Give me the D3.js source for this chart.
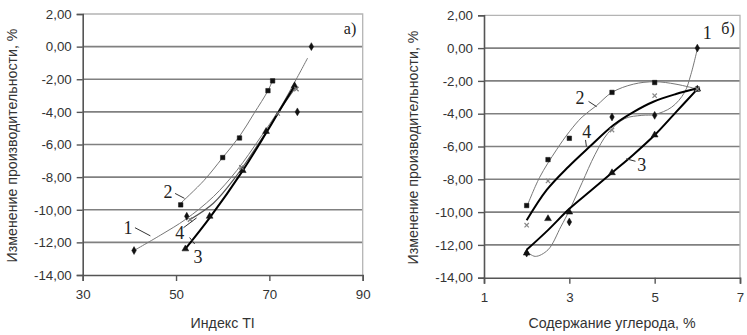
<!DOCTYPE html>
<html>
<head>
<meta charset="utf-8">
<script src="https://cdn.jsdelivr.net/npm/d3@7"></script>
<style>
  body { margin: 0; background: #fff; }
  svg { display: block; }
  .tick text { font-family: "Liberation Sans", Arial, sans-serif; font-size: 13.3px; fill: #333; }
  .title { font-family: "Liberation Sans", Arial, sans-serif; font-size: 14.2px; fill: #333; }
  .note { font-family: "Liberation Serif", "Times New Roman", serif; font-size: 18px; fill: #222; }
</style>
</head>
<body>
<div id="chart"></div>
<script>
// y axis is the same on both panels
var yTicks = [2, 0, -2, -4, -6, -8, -10, -12, -14];
var yTickLabels = ["2,00", "0,00", "-2,00", "-4,00", "-6,00", "-8,00", "-10,00", "-12,00", "-14,00"];
var yTitle = "Изменение производительности, %";

// panel a) - index TI
var tiTicks = [30, 50, 70, 90];
var tiTitle = "Индекс TI";
var tiMarks1 = [[41, -12.5], [52.3, -10.4], [76, -4.0], [79, 0.0]];
var tiMarks2 = [[51, -9.7], [60, -6.8], [63.6, -5.6], [69.7, -2.7], [70.7, -2.1]];
var tiMarks3 = [[52, -12.4], [57.2, -10.4], [64.3, -7.6], [69.3, -5.2], [75.4, -2.4]];
var tiMarks4 = [[53, -10.6], [64, -7.4], [71.8, -4.1], [75.8, -2.6]];
// trend curves
var tiCurve1 = [[41, -12.5], [47, -11.5], [52, -10.6], [58, -9.2], [63, -7.6], [68, -5.6], [72, -3.9], [75, -2.4], [78.2, -0.7]];
var tiCurve2 = [[51, -9.6], [56, -8.2], [60, -6.8], [63.6, -5.5], [66.7, -4.1], [69.7, -2.7], [70.8, -2.0]];
var tiCurve3 = [[52, -12.4], [57.2, -10.5], [64.3, -7.6], [69.3, -5.3], [71.8, -4.1], [75.4, -2.4]];
var tiCurve4 = [[53, -10.6], [58, -9.6], [63, -7.9], [68, -5.8], [72, -4.0], [75.6, -2.5]];

// panel б) - carbon content
var cTicks = [1, 3, 5, 7];
var cTitle = "Содержание углерода, %";
var cMarks1 = [[2, -12.5], [3, -10.6], [4, -4.2], [5, -4.1], [6, 0.0]];
var cMarks2 = [[2, -9.6], [2.5, -6.8], [3, -5.5], [4, -2.7], [5, -2.1], [6, -2.5]];
var cMarks3 = [[2, -12.5], [2.5, -10.4], [3, -10.0], [4, -7.6], [5, -5.3], [6, -2.5]];
var cMarks4 = [[2, -10.8], [2.5, -8.1], [4, -5.0], [5, -2.9], [6, -2.5]];
var cCurve1 = [[2, -12.4], [2.2, -12.7], [2.5, -12.3], [2.8, -10.9], [3, -9.9], [3.3, -8.2], [3.6, -6.5], [3.9, -5.2], [4.3, -4.3], [4.7, -4.1], [5, -4.05], [5.4, -3.6], [5.7, -2.7], [5.85, -1.6], [6, -0.05]];
var cCurve2 = [[2, -9.7], [2.3, -7.9], [2.7, -6.2], [3, -5.1], [3.3, -4.2], [3.64, -3.5], [4, -2.7], [4.5, -2.2], [5, -2.05], [5.5, -2.2], [6, -2.5]];
var cCurve3 = [[2, -12.3], [2.5, -11.1], [3, -9.8], [3.5, -8.7], [4, -7.6], [4.5, -6.5], [5, -5.3], [5.5, -3.9], [6, -2.5]];
var cCurve4 = [[2, -10.5], [2.47, -8.65], [2.98, -7.23], [3.48, -6.0], [4.03, -4.7], [4.5, -3.9], [4.97, -3.27], [5.5, -2.8], [6, -2.45]];

// curve labels [text, x, y, leader from x,y to x,y] in data units
var tiNotes = [["1", 39.7, -11.1, [41.2, -11.1, 44.5, -11.6]], ["2", 48.3, -8.9, [49.8, -9.0, 51.8, -9.3]],
               ["4", 50.8, -11.4, [51.6, -11.1, 54.4, -10.5]], ["3", 54.7, -12.9, [54.0, -12.1, 52.9, -11.7]]];
var cNotes = [["1", 6.23, 0.92, null], ["2", 3.25, -3.04, [3.45, -3.25, 3.64, -3.57]],
              ["4", 3.41, -5.1, [3.38, -5.6, 3.4, -6.0]], ["3", 4.7, -7.13, [4.55, -6.9, 4.33, -6.75]]];

var svg = d3.select("#chart").append("svg")
  .attr("width", 747).attr("height", 335);
svg.append("rect").attr("width", 747).attr("height", 335).attr("fill", "#fff");

var line = d3.line().curve(d3.curveCatmullRom.alpha(0.5));

function panel(opt) {
  var x = d3.scaleLinear().domain(opt.xDomain).range([opt.left, opt.right]);
  var y = d3.scaleLinear().domain([-14, 2]).range([opt.bottom, opt.top]);
  var g = svg.append("g");

  // grid
  g.selectAll(".grid").data(yTicks.filter(function(d) { return d > -14 && d < 2; }))
    .enter().append("line")
      .attr("x1", opt.left).attr("x2", opt.right)
      .attr("y1", function(d) { return y(d); }).attr("y2", function(d) { return y(d); })
      .attr("stroke", "#808080").attr("stroke-width", 1.6);
  // frame top/right
  g.append("path")
    .attr("d", "M" + opt.left + "," + opt.top + "H" + opt.right + "V" + opt.bottom)
    .attr("fill", "none").attr("stroke", "#b4b4b4").attr("stroke-width", 1.3);

  // axes
  var ya = g.append("g").attr("transform", "translate(" + opt.left + ",0)")
    .call(d3.axisLeft(y).tickValues(yTicks).tickSize(6).tickPadding(5)
      .tickFormat(function(d, i) { return yTickLabels[i]; }));
  var xa = g.append("g").attr("transform", "translate(0," + opt.bottom + ")")
    .call(d3.axisBottom(x).tickValues(opt.xTicks).tickSize(6).tickPadding(9)
      .tickFormat(d3.format("d")));
  [ya, xa].forEach(function(a) {
    a.select(".domain").attr("stroke", "#555").attr("stroke-width", 1.6);
    a.selectAll(".tick line").attr("stroke", "#555").attr("stroke-width", 1.4);
  });

  g.append("text").attr("class", "title")
    .attr("transform", "translate(" + opt.yTitleX + "," + ((opt.top + opt.bottom) / 2 + 1) + ")rotate(-90)")
    .attr("text-anchor", "middle").attr("dy", "0.35em").text(yTitle);
  g.append("text").attr("class", "title")
    .attr("x", (opt.left + opt.right) / 2).attr("y", 323)
    .attr("text-anchor", "middle").attr("dy", "0.35em").text(opt.xTitle);

  // curves
  opt.curves.forEach(function(c) {
    g.append("path")
      .attr("d", line(c.pts.map(function(p) { return [x(p[0]), y(p[1])]; })))
      .attr("fill", "none").attr("stroke", c.color).attr("stroke-width", c.w);
  });

  // markers
  opt.marks.forEach(function(m) {
    g.selectAll(null).data(m.pts).enter().append("path")
      .attr("transform", function(d) { return "translate(" + x(d[0]) + "," + y(d[1]) + ")"; })
      .attr("d", d3.symbol().type(m.type).size(m.size))
      .attr("fill", m.stroke ? "none" : m.color)
      .attr("stroke", m.color).attr("stroke-width", m.stroke ? 1.2 : 0.5);
  });

  // notes
  opt.notes.forEach(function(n) {
    g.append("text").attr("class", "note")
      .attr("x", x(n[1])).attr("y", y(n[2]))
      .attr("text-anchor", "middle").attr("dy", "0.35em").text(n[0]);
    if (n[3]) {
      g.append("line")
        .attr("x1", x(n[3][0])).attr("y1", y(n[3][1]))
        .attr("x2", x(n[3][2])).attr("y2", y(n[3][3]))
        .attr("stroke", "#333").attr("stroke-width", 1);
    }
  });
  g.append("text").attr("class", "note").style("font-size", "16px")
    .attr("x", opt.tagX).attr("y", 28)
    .attr("text-anchor", "middle").attr("dy", "0.35em").text(opt.tag);
}

panel({
  left: 82.7, right: 362.7, top: 14, bottom: 275,
  xDomain: [30, 90], xTicks: tiTicks, xTitle: tiTitle, yTitleX: 12,
  tag: "а)", tagX: 350,
  curves: [
    {pts: tiCurve1, color: "#777", w: 1},
    {pts: tiCurve2, color: "#777", w: 1},
    {pts: tiCurve4, color: "#555", w: 1.2},
    {pts: tiCurve3, color: "#000", w: 2}
  ],
  marks: [
    {pts: tiMarks1, type: d3.symbolDiamond, size: 18, color: "#111"},
    {pts: tiMarks2, type: d3.symbolSquare, size: 20, color: "#111"},
    {pts: tiMarks3, type: d3.symbolTriangle, size: 20, color: "#111"},
    {pts: tiMarks4, type: d3.symbolX, size: 14, color: "#777", stroke: true}
  ],
  notes: tiNotes
});

panel({
  left: 484, right: 740, top: 15.3, bottom: 277.7,
  xDomain: [1, 7], xTicks: cTicks, xTitle: cTitle, yTitleX: 413,
  tag: "б)", tagX: 728,
  curves: [
    {pts: cCurve1, color: "#777", w: 1},
    {pts: cCurve2, color: "#777", w: 1},
    {pts: cCurve4, color: "#000", w: 2},
    {pts: cCurve3, color: "#000", w: 2}
  ],
  marks: [
    {pts: cMarks1, type: d3.symbolDiamond, size: 18, color: "#111"},
    {pts: cMarks2, type: d3.symbolSquare, size: 20, color: "#111"},
    {pts: cMarks3, type: d3.symbolTriangle, size: 20, color: "#111"},
    {pts: cMarks4, type: d3.symbolX, size: 14, color: "#888", stroke: true}
  ],
  notes: cNotes
});
</script>
</body>
</html>
